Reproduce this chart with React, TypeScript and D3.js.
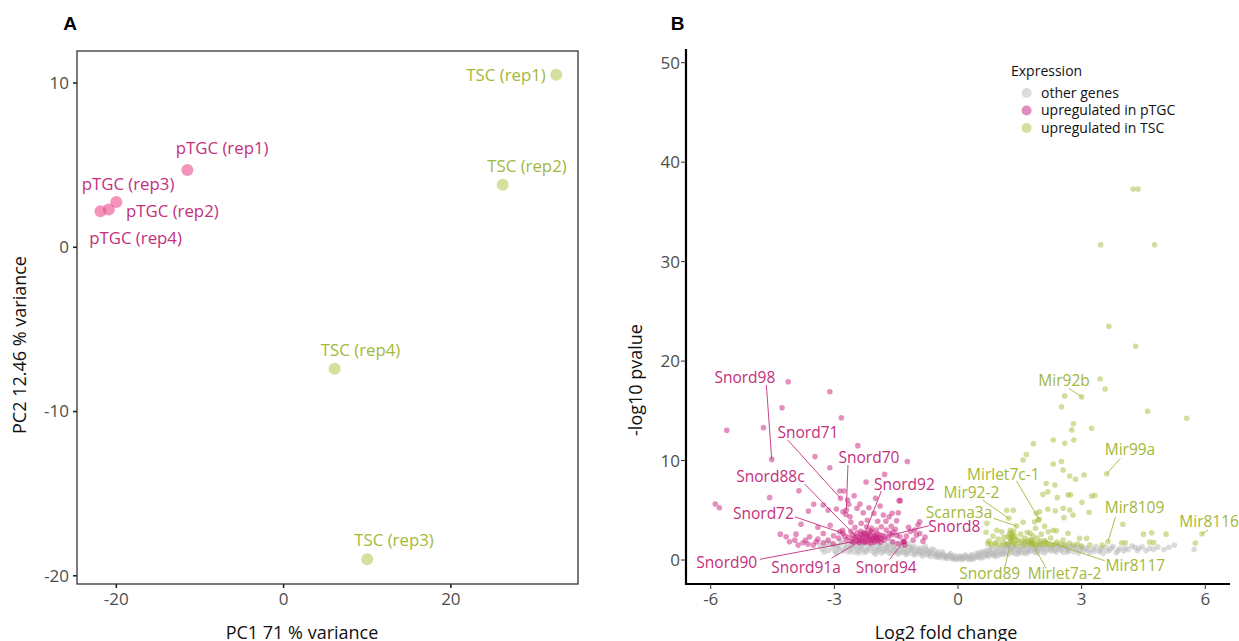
import * as d3 from 'd3';

// ---------- Panel A: PCA ----------
const pcaSamples = ['pTGC (rep1)', 'pTGC (rep2)', 'pTGC (rep3)', 'pTGC (rep4)', 'TSC (rep1)', 'TSC (rep2)', 'TSC (rep3)', 'TSC (rep4)'];
const pcaGroup = ['pTGC', 'pTGC', 'pTGC', 'pTGC', 'TSC', 'TSC', 'TSC', 'TSC'];
const pc1 = [-11.5, -20.9, -20.0, -21.9, 32.6, 26.2, 10.0, 6.1];
const pc2 = [4.7, 2.3, 2.75, 2.2, 10.5, 3.8, -19.0, -7.4];
// label anchors (data units, centre x / baseline y) as placed by the repel step
const pcaLabelX = [-7.35, -13.3, -18.6, -17.7, 26.6, 29.1, 13.2, 9.2];
const pcaLabelY = [5.65, 1.82, 3.48, 0.18, 10.1, 4.6, -18.2, -6.6];
const pcaXTicks = [-20, 0, 20];
const pcaYTicks = [-20, -10, 0, 10];

// ---------- Panel B: volcano (log2 fold change, -log10 pvalue) ----------
const otherGenes: [number, number][] = [
  [-3.35, 1.5], [-3.3, 1.1], [-3.22, 1.35], [-3.15, 0.95], [-3.1, 1.6], [-3.05, 1.2], [-2.98, 0.85], [-2.92, 1.45], [-2.88, 1.05],
  [-2.82, 1.7], [-2.78, 0.9], [-2.72, 1.3], [-2.68, 1.55], [-2.62, 1.0], [-2.58, 1.25], [-2.52, 0.8], [-2.48, 1.6], [-2.45, 1.15],
  [-2.4, 0.95], [-2.36, 1.4], [-2.3, 1.05], [-2.26, 1.7], [-2.22, 0.85], [-2.18, 1.3], [-2.12, 1.0], [-2.08, 1.5], [-2.04, 0.75],
  [-1.98, 1.2], [-1.95, 0.95], [-1.9, 1.45], [-1.86, 0.7], [-1.82, 1.1], [-1.78, 1.6], [-1.74, 0.9], [-1.7, 1.3], [-1.66, 0.65],
  [-1.62, 1.05], [-1.58, 1.5], [-1.55, 0.8], [-1.5, 1.2], [-1.46, 0.6], [-1.42, 1.0], [-1.38, 1.4], [-1.35, 0.75], [-1.3, 1.15],
  [-1.26, 0.55], [-1.22, 0.95], [-1.18, 1.3], [-1.14, 0.7], [-1.1, 1.05], [-1.06, 0.5], [-1.02, 0.85],
  [-0.98, 1.2], [-0.94, 0.6], [-0.9, 0.95], [-0.86, 0.4], [-0.82, 0.75], [-0.78, 1.1], [-0.74, 0.5], [-0.7, 0.85], [-0.66, 0.35],
  [-0.62, 0.65], [-0.58, 1.0], [-0.54, 0.3], [-0.5, 0.6], [-0.46, 0.25], [-0.42, 0.5], [-0.38, 0.8], [-0.34, 0.2], [-0.3, 0.45],
  [-0.26, 0.15], [-0.22, 0.4], [-0.18, 0.65], [-0.14, 0.1], [-0.1, 0.3], [-0.06, 0.05], [-0.02, 0.25],
  [0.02, 0.1], [0.06, 0.35], [0.1, 0.05], [0.14, 0.25], [0.18, 0.5], [0.22, 0.12], [0.26, 0.35], [0.3, 0.2], [0.34, 0.55],
  [0.38, 0.15], [0.42, 0.4], [0.46, 0.7], [0.5, 0.25], [0.54, 0.5], [0.58, 0.85], [0.62, 0.3], [0.66, 0.6], [0.7, 1.0],
  [0.74, 0.35], [0.78, 0.7], [0.82, 1.1], [0.86, 0.45], [0.9, 0.8], [0.94, 1.2], [0.98, 0.5],
  [1.02, 0.9], [1.06, 1.3], [1.1, 0.55], [1.14, 1.0], [1.18, 1.4], [1.22, 0.6], [1.26, 1.05], [1.3, 0.75], [1.34, 1.45],
  [1.38, 0.65], [1.42, 1.1], [1.46, 0.8], [1.5, 1.35], [1.54, 0.7], [1.58, 1.15], [1.62, 0.85], [1.66, 1.5], [1.7, 0.75],
  [1.74, 1.2], [1.78, 0.9], [1.82, 1.4], [1.86, 0.8], [1.9, 1.25], [1.94, 0.95], [1.98, 1.5],
  [2.02, 0.85], [2.08, 1.3], [2.14, 0.95], [2.2, 1.45], [2.26, 0.9], [2.32, 1.2], [2.38, 0.8], [2.44, 1.35], [2.5, 1.0],
  [2.56, 0.75], [2.62, 1.25], [2.68, 0.95], [2.74, 1.4], [2.8, 0.85], [2.86, 1.15], [2.92, 0.7], [2.98, 1.3],
  [3.05, 0.9], [3.12, 1.2], [3.2, 0.75], [3.28, 1.1], [3.35, 1.35], [3.42, 0.85], [3.48, 1.17], [3.52, 0.67], [3.58, 1.28],
  [3.68, 1.0], [3.76, 1.35], [3.84, 0.74], [3.92, 1.15], [4.02, 0.9], [4.13, 1.07], [4.22, 1.4], [4.29, 1.28], [4.39, 1.17],
  [4.47, 1.34], [4.56, 0.95], [4.65, 1.17], [4.85, 1.3], [5.12, 1.28], [5.25, 1.5], [5.73, 1.07],
  [-2.9, 1.25], [-2.6, 1.45], [-2.35, 1.2], [-2.15, 1.55], [-1.92, 1.05], [-1.72, 1.35], [-1.52, 0.95], [-1.32, 0.85],
  [-1.12, 1.2], [-0.92, 0.8], [-0.72, 0.6], [-0.52, 0.45], [-0.32, 0.35], [-0.12, 0.2], [0.08, 0.2], [0.28, 0.05],
  [0.48, 0.45], [0.68, 0.5], [0.88, 0.65], [1.08, 0.75], [1.28, 1.25], [1.48, 1.05], [1.68, 1.1], [1.88, 1.05],
  [2.05, 1.15], [2.25, 1.1], [2.45, 1.1], [2.65, 1.1], [-1.6, 1.8], [-1.2, 1.6], [-0.8, 1.4], [0.8, 1.3], [1.2, 1.6],
  [1.6, 1.75], [2.0, 1.7],
  [-3.25, 0.8], [-3.18, 1.75], [-3.0, 1.4], [-2.95, 0.7], [-2.85, 1.9], [-2.75, 1.15], [-2.65, 0.8], [-2.55, 1.7], [-2.5, 1.35],
  [-2.42, 0.7], [-2.32, 1.55], [-2.28, 0.75], [-2.2, 1.1], [-2.1, 1.75], [-2.06, 1.2], [-2.0, 0.6], [-1.94, 1.65], [-1.88, 1.25],
  [-1.8, 0.85], [-1.76, 1.15], [-1.68, 1.6], [-1.64, 0.85], [-1.56, 1.3], [-1.48, 1.6], [-1.44, 0.75], [-1.36, 1.2], [-1.28, 1.5],
  [-1.24, 0.7], [-1.16, 1.0], [-1.08, 1.4], [-1.04, 0.7], [-0.96, 1.0], [-0.88, 1.2], [-0.84, 0.6], [-0.76, 0.95], [-0.68, 0.75],
  [-0.64, 1.1], [-0.56, 0.55], [-0.48, 0.8], [-0.44, 0.4], [-0.36, 0.6], [-0.28, 0.3], [-0.2, 0.5], [-0.16, 0.3], [-0.08, 0.45],
  [-0.04, 0.15], [0.04, 0.4], [0.12, 0.15], [0.16, 0.4], [0.24, 0.25], [0.32, 0.4], [0.36, 0.1], [0.44, 0.3], [0.52, 0.65],
  [0.56, 0.2], [0.64, 0.8], [0.72, 0.55], [0.76, 0.9], [0.84, 0.6], [0.92, 0.35], [0.96, 0.95], [1.04, 0.6], [1.12, 1.2],
  [1.16, 0.7], [1.24, 1.3], [1.32, 0.95], [1.36, 1.2], [1.44, 0.6], [1.52, 0.95], [1.56, 1.4], [1.64, 0.65], [1.72, 0.95],
  [1.76, 1.5], [1.84, 1.15], [1.92, 0.7], [1.96, 1.2], [2.04, 1.4], [2.1, 0.7], [2.18, 1.15], [2.28, 1.35], [2.36, 1.0],
  [2.42, 1.5], [2.52, 1.25], [2.58, 1.45], [2.66, 0.8], [2.72, 1.2], [2.84, 1.35], [2.94, 1.0], [3.02, 1.15], [3.15, 1.0],
  [3.3, 0.9], [3.45, 1.0], [3.62, 0.9], [3.72, 1.2], [3.88, 0.95], [4.05, 1.2], [4.35, 0.95], [4.75, 1.1], [5.0, 1.05],
];

const upPTGC: [number, number][] = [
  [-4.12, 17.92], [-3.11, 16.92], [-4.27, 15.31], [-2.83, 14.31], [-4.72, 13.31], [-5.61, 13.04], [-2.43, 11.5], [-3.47, 10.4],
  [-1.23, 9.9], [-4.52, 10.12], [-3.11, 9.28], [-1.78, 8.61], [-2.23, 7.84], [-3.86, 6.97], [-4.57, 6.27], [-5.89, 5.63],
  [-5.79, 5.26], [-2.87, 6.94], [-2.77, 6.94], [-2.52, 6.47], [-2.68, 6.03], [-2.38, 5.63], [-3.27, 5.53], [-3.5, 5.6],
  [-3.63, 4.92], [-3.15, 5.02], [-2.95, 5.13], [-2.79, 4.86], [-2.72, 4.59], [-2.62, 4.35], [-2.3, 4.76], [-2.16, 5.26],
  [-2.04, 4.69], [-1.89, 5.43], [-1.81, 4.53], [-1.43, 5.97], [-1.4, 5.97], [-1.45, 4.76], [-1.49, 3.95], [-1.67, 4.35],
  [-3.81, 3.59], [-4.31, 2.6], [-4.17, 2.33], [-3.93, 2.6], [-3.6, 2.33], [-3.44, 1.83], [-3.27, 2.67], [-3.15, 2.0],
  [-3.02, 2.44], [-2.87, 2.84], [-2.8, 3.0], [-4.09, 1.83], [-3.96, 2.0], [-3.76, 1.73], [-3.64, 1.6], [-3.88, 1.5],
  [-3.51, 1.5], [-3.27, 1.73], [-3.03, 1.66], [-2.71, 2.0], [-2.55, 2.5], [-2.47, 2.0], [-2.39, 1.73],
  [-2.22, 3.35], [-2.1, 3.18], [-1.98, 3.01], [-1.86, 3.35], [-1.74, 3.01], [-2.35, 2.6], [-2.3, 2.2], [-2.25, 1.9],
  [-2.2, 2.5], [-2.15, 2.1], [-2.12, 1.7], [-2.08, 2.8], [-2.05, 2.3], [-2.0, 1.95], [-1.95, 2.6], [-1.92, 2.2], [-1.88, 1.8],
  [-1.83, 2.45], [-1.8, 2.0], [-2.4, 2.3], [-2.28, 2.75], [-2.18, 2.25], [-2.1, 2.0], [-2.02, 2.45], [-1.97, 2.15],
  [-2.33, 1.95], [-2.45, 2.75], [-2.5, 3.3], [-2.6, 2.9], [-2.65, 2.3],
  [-2.38, 2.05], [-2.32, 2.45], [-2.27, 1.75], [-2.24, 2.35], [-2.2, 1.85], [-2.17, 2.7], [-2.14, 2.4], [-2.07, 2.15],
  [-2.03, 1.8], [-1.99, 2.35], [-1.94, 1.95], [-1.9, 2.5], [-2.42, 1.85], [-2.36, 2.9], [-2.13, 2.95], [-1.86, 2.1],
  [-1.77, 2.35], [-2.52, 2.2], [-2.58, 1.9], [-2.9, 2.2], [-2.75, 2.4], [-3.4, 2.1], [-3.7, 2.0],
  [-1.66, 2.67], [-1.58, 2.84], [-1.49, 2.5], [-1.41, 2.33], [-1.58, 1.83], [-1.45, 1.66], [-1.33, 1.83], [-1.29, 1.5],
  [-1.05, 3.01], [-0.97, 3.52], [-0.93, 2.67], [-1.01, 2.5], [-1.09, 2.0], [-0.93, 3.85], [-1.3, 1.9], [-1.7, 2.2],
  [-1.62, 3.4], [-1.52, 3.1], [-1.25, 2.4], [-1.15, 2.9], [-0.85, 1.9], [-0.8, 2.3], [-1.2, 3.3],
  [-2.65, 5.6], [-2.45, 5.2], [-2.0, 6.2], [-1.6, 4.7], [-2.2, 4.0], [-2.35, 3.7], [-1.95, 3.9], [-2.6, 3.8], [-3.4, 3.3],
  [-3.1, 3.5], [-1.75, 3.9],
  [-2.85, 6.2], [-2.71, 5.03], [-2.47, 2.35], [-2.26, 2.68], [-2.79, 2.68], [-1.62, 2.51], [-2.55, 1.84], [-1.32, 1.84],
];

const upTSC: [number, number][] = [
  [4.25, 37.3], [4.37, 37.3], [3.46, 31.7], [4.77, 31.7], [3.66, 23.5], [4.31, 21.5], [3.45, 18.2], [3.57, 17.2], [2.59, 16.5],
  [3.0, 16.4], [2.51, 15.4], [4.6, 14.95], [5.55, 14.25], [2.8, 13.7], [2.76, 13.07], [3.24, 13.24], [2.31, 12.07], [2.59, 11.73],
  [2.81, 12.07], [1.83, 11.7],
  [1.66, 10.6], [1.58, 10.05], [2.31, 9.65], [2.51, 9.9], [2.55, 9.05], [2.71, 8.45], [2.85, 8.11], [3.06, 8.55], [3.61, 8.68],
  [2.14, 7.7], [2.18, 6.87], [2.35, 7.54], [2.06, 6.6], [2.41, 6.27], [2.67, 6.53], [2.73, 6.56], [3.01, 5.8], [3.24, 6.43],
  [3.32, 6.5], [2.18, 5.1], [2.36, 4.96], [2.55, 5.2], [2.71, 5.03], [3.18, 4.8], [2.57, 4.26], [2.79, 4.52], [1.9, 4.7],
  [1.98, 4.86], [1.86, 3.85], [1.95, 4.02], [2.31, 3.0], [2.39, 2.95], [2.19, 2.85], [2.67, 2.68], [2.95, 2.18], [3.12, 2.18],
  [4.0, 3.6], [4.5, 2.6], [4.7, 2.75], [5.05, 2.6], [5.92, 2.63], [5.76, 1.7], [3.64, 1.84], [3.97, 1.74], [4.06, 1.74],
  [4.65, 1.8], [4.75, 1.76],
  [0.68, 2.8], [0.7, 3.7], [0.75, 1.9], [0.8, 1.6], [0.85, 2.4], [0.9, 1.7], [0.94, 3.0], [0.98, 2.1], [1.02, 1.5], [1.06, 2.85],
  [1.1, 1.8], [1.12, 2.3], [1.18, 5.0], [1.2, 1.6], [1.23, 4.19], [1.25, 2.6], [1.28, 1.9], [1.3, 2.2], [1.32, 2.51], [1.34, 5.0],
  [1.35, 2.9], [1.38, 2.4], [1.4, 1.5], [1.42, 3.42], [1.45, 2.0], [1.5, 1.7], [1.52, 2.6], [1.55, 1.9], [1.58, 3.8], [1.6, 1.5],
  [1.62, 2.2], [1.65, 1.8], [1.68, 2.8], [1.72, 1.6], [1.75, 2.7], [1.8, 1.68], [1.78, 2.0], [1.82, 2.4], [1.85, 1.8],
  [1.88, 3.2], [1.9, 1.6], [1.92, 2.2], [1.97, 4.09], [1.95, 1.5], [2.0, 1.9], [2.02, 2.6], [2.05, 1.6], [2.1, 3.4], [2.1, 1.95],
  [2.12, 1.8], [2.2, 1.6], [2.25, 2.2], [2.3, 1.5], [2.4, 1.8], [2.5, 1.6], [2.55, 2.0], [2.6, 1.5], [2.7, 1.7], [2.8, 1.5],
  [2.9, 1.6], [3.0, 1.4], [3.2, 1.5], [3.5, 1.5],
  [1.26, 2.2], [1.29, 2.75], [1.31, 1.85], [1.33, 2.35], [1.36, 1.65], [1.27, 3.0], [1.22, 2.35], [1.4, 2.05], [1.75, 1.75],
  [1.82, 1.55], [1.78, 1.9], [1.7, 2.0], [0.72, 1.65], [0.92, 1.55], [1.15, 1.55], [2.15, 1.55], [2.35, 1.6],
];

// labelled genes: name, group, target point, text anchor (left x / baseline y), segment start
const geneNames = ['Snord98', 'Snord71', 'Snord70', 'Snord88c', 'Snord92', 'Snord72', 'Snord8', 'Snord90', 'Snord91a', 'Snord94',
  'Mir92b', 'Mir99a', 'Mirlet7c-1', 'Mir92-2', 'Scarna3a', 'Snord89', 'Mirlet7a-2', 'Mir8117', 'Mir8109', 'Mir8116'];
const geneGroup = ['p', 'p', 'p', 'p', 'p', 'p', 'p', 'p', 'p', 'p', 't', 't', 't', 't', 't', 't', 't', 't', 't', 't'];
const geneTarget: [number, number][] = [[-4.52, 10.12], [-2.85, 6.2], [-2.71, 5.03], [-2.47, 2.35], [-2.26, 2.68], [-2.79, 2.68],
  [-1.62, 2.51], [-2.55, 1.84], [-2.3, 2.1], [-1.32, 1.84], [3.0, 16.4], [3.61, 8.68], [1.97, 4.09], [1.23, 4.19], [1.42, 3.42],
  [1.32, 2.51], [1.8, 1.68], [2.1, 1.95], [3.64, 1.84], [5.92, 2.63]];
const geneText: [number, number][] = [[-5.91, 17.83], [-4.38, 12.3], [-2.9, 9.78], [-5.38, 7.87], [-2.04, 7.04], [-5.46, 4.09],
  [-0.72, 2.85], [-6.35, -0.83], [-4.53, -1.34], [-2.48, -1.34], [1.95, 17.52], [3.56, 10.56], [0.22, 8.04], [-0.35, 6.26],
  [-0.78, 4.25], [0.03, -1.94], [1.69, -1.94], [3.58, -1.08], [3.56, 4.7], [5.37, 3.35]];
const geneSegStart: [number, number][] = [[-4.65, 17.6], [-4.13, 12.06], [-2.67, 9.55], [-3.72, 7.64], [-1.86, 6.94], [-3.96, 4.35],
  [-0.7, 3.45], [-4.81, 0.07], [-3.07, 0.17], [-1.66, 0.07], [2.69, 17.26], [3.94, 10.23], [1.42, 7.94], [0.6, 6.03],
  [0.86, 4.19], [1.13, -0.83], [2.14, -0.83], [3.56, -0.07], [3.82, 4.35], [6.07, 3.02]];

const volXTicks = [-6, -3, 0, 3, 6];
const volYTicks = [0, 10, 20, 30, 40, 50];
const legendLabels = ['other genes', 'upregulated in pTGC', 'upregulated in TSC'];
const legendColors = ['#dcdcdc', '#e08cbc', '#d3df9c'];

const FONT = '"Open Sans", "Noto Sans", sans-serif';
const PINK_TEXT = '#c42f7c';
const GREEN_TEXT = '#a3b83a';
const TICK_TEXT = '#4d4d4d';

export default function App() {
  const xA = d3.scaleLinear().domain([-24.7, 35.2]).range([77, 578]);
  const yA = d3.scaleLinear().domain([-20.5, 11.95]).range([584, 51]);
  const xB = d3.scaleLinear().domain([-6.6, 6.6]).range([686, 1230]);
  const yB = d3.scaleLinear().domain([-2.41, 51.35]).range([584, 49.3]);

  return (
    <svg width={1239} height={641} style={{ position: 'absolute', left: 0, top: 0 }} fontFamily={FONT}>
      <rect width={1239} height={641} fill="white" />

      {/* ---------- A ---------- */}
      <text x={70} y={30} textAnchor="middle" fontFamily='"Liberation Sans", Arial, sans-serif' fontWeight="bold" fontSize={19}>A</text>
      <rect x={xA.range()[0]} y={yA.range()[1]} width={xA.range()[1] - xA.range()[0]} height={yA.range()[0] - yA.range()[1]}
        fill="none" stroke="#333" strokeWidth={1.3} />
      {pcaYTicks.map(t => (
        <g key={'ay' + t}>
          <line x1={73} x2={77} y1={yA(t)} y2={yA(t)} stroke="#222" strokeWidth={1.6} />
          <text x={69} y={yA(t)} dy="0.35em" textAnchor="end" fontSize={17} fill={TICK_TEXT}>{t}</text>
        </g>
      ))}
      {pcaXTicks.map(t => (
        <g key={'ax' + t}>
          <line x1={xA(t)} x2={xA(t)} y1={584} y2={588} stroke="#222" strokeWidth={1.6} />
          <text x={xA(t)} y={605} textAnchor="middle" fontSize={17} fill={TICK_TEXT}>{t}</text>
        </g>
      ))}
      <text x={302} y={639} textAnchor="middle" fontSize={18} fill="#111">PC1 71 % variance</text>
      <text transform="translate(26,345) rotate(-90)" textAnchor="middle" fontSize={18} fill="#111">PC2 12.46 % variance</text>
      {pc1.map((v, i) => (
        <circle key={'pc' + i} cx={xA(v)} cy={yA(pc2[i])} r={6}
          fill={pcaGroup[i] === 'pTGC' ? '#ec4d8c' : '#b5cc5e'} fillOpacity={0.6} />
      ))}
      {pcaSamples.map((s, i) => (
        <text key={'pl' + i} x={xA(pcaLabelX[i])} y={yA(pcaLabelY[i])} textAnchor="middle" fontSize={16.8}
          fill={pcaGroup[i] === 'pTGC' ? PINK_TEXT : GREEN_TEXT}>{s}</text>
      ))}

      {/* ---------- B ---------- */}
      <text x={677.5} y={29.5} textAnchor="middle" fontFamily='"Liberation Sans", Arial, sans-serif' fontWeight="bold" fontSize={19}>B</text>
      {otherGenes.map((d, i) => (
        <circle key={'g' + i} cx={xB(d[0])} cy={yB(d[1])} r={2.8} fill="#b8b8b8" fillOpacity={0.5} />
      ))}
      {upPTGC.map((d, i) => (
        <circle key={'p' + i} cx={xB(d[0])} cy={yB(d[1])} r={2.8} fill="#c8217d" fillOpacity={0.5} />
      ))}
      {upTSC.map((d, i) => (
        <circle key={'t' + i} cx={xB(d[0])} cy={yB(d[1])} r={2.8} fill="#a6bd3a" fillOpacity={0.5} />
      ))}
      {geneNames.map((n, i) => {
        const col = geneGroup[i] === 'p' ? PINK_TEXT : GREEN_TEXT;
        return (
          <g key={'gl' + i}>
            <line x1={xB(geneSegStart[i][0])} y1={yB(geneSegStart[i][1])} x2={xB(geneTarget[i][0])} y2={yB(geneTarget[i][1])}
              stroke={col} strokeWidth={0.9} />
            <text x={xB(geneText[i][0])} y={yB(geneText[i][1])} fontSize={15.5} fill={col}>{n}</text>
          </g>
        );
      })}
      <line x1={686} x2={686} y1={49} y2={585} stroke="#000" strokeWidth={2.2} />
      <line x1={685} x2={1230} y1={584} y2={584} stroke="#000" strokeWidth={2.2} />
      {volYTicks.map(t => (
        <g key={'by' + t}>
          <line x1={681} x2={686} y1={yB(t)} y2={yB(t)} stroke="#333" strokeWidth={1} />
          <text x={680} y={yB(t)} dy="0.35em" textAnchor="end" fontSize={17} fill={TICK_TEXT}>{t}</text>
        </g>
      ))}
      {volXTicks.map(t => (
        <g key={'bx' + t}>
          <line x1={xB(t)} x2={xB(t)} y1={584} y2={589} stroke="#333" strokeWidth={1} />
          <text x={xB(t)} y={605} textAnchor="middle" fontSize={17} fill={TICK_TEXT}>{t}</text>
        </g>
      ))}
      <text x={946} y={639} textAnchor="middle" fontSize={18} fill="#111">Log2 fold change</text>
      <text transform="translate(642,380) rotate(-90)" textAnchor="middle" fontSize={18} fill="#111">-log10 pvalue</text>

      {/* legend */}
      <text x={1011} y={76} fontSize={14} fill="#111">Expression</text>
      {legendLabels.map((l, i) => (
        <g key={'lg' + i}>
          <circle cx={1026.6} cy={93 + i * 17.5} r={5} fill={legendColors[i]} />
          <text x={1041} y={93 + i * 17.5} dy="0.35em" fontSize={14} fill="#111">{l}</text>
        </g>
      ))}
    </svg>
  );
}
